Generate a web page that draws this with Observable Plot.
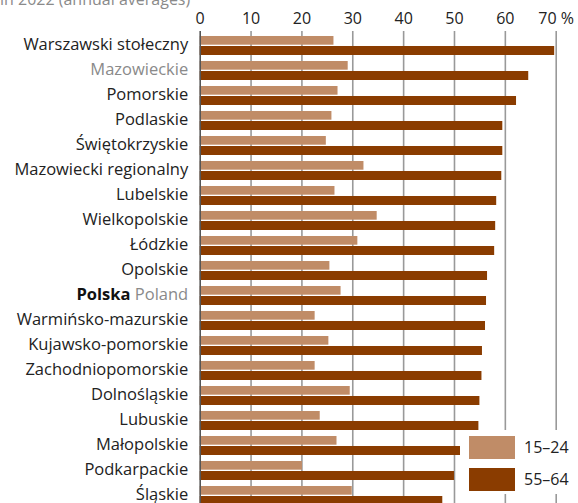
<!DOCTYPE html>
<html><head><meta charset="utf-8">
<script src="https://cdn.jsdelivr.net/npm/d3@7"></script>
<script src="https://cdn.jsdelivr.net/npm/@observablehq/plot@0.6"></script>
<style>
body{margin:0;overflow:hidden;width:578px;height:503px;position:relative;font-family:"Open Sans",sans-serif;background:#fff}
#sub{position:absolute;left:0;top:-9px;font-size:16px;line-height:16px;color:#8a8a8a;white-space:nowrap}
#chart{position:absolute;left:0;top:0}
#legend{position:absolute;left:460px;top:430px;width:118px;height:64px;background:#fff}
.sw{position:absolute;left:9px;width:46px;height:23px}
.lb{position:absolute;left:64px;font-size:16px;line-height:23px;color:#222}
</style></head><body>
<div id="sub">in 2022 (annual averages)</div>
<div id="chart"></div>
<div id="legend"></div>
<script>
const regions = ["Warszawski stołeczny","Mazowieckie","Pomorskie","Podlaskie","Świętokrzyskie","Mazowiecki regionalny","Lubelskie","Wielkopolskie","Łódzkie","Opolskie","Polska Poland","Warmińsko-mazurskie","Kujawsko-pomorskie","Zachodniopomorskie","Dolnośląskie","Lubuskie","Małopolskie","Podkarpackie","Śląskie"];
const youth = [26.3,29.1,27.1,25.9,24.8,32.2,26.5,34.8,31.0,25.5,27.7,22.6,25.3,22.6,29.5,23.6,26.9,20.1,29.9];
const older = [69.7,64.6,62.2,59.5,59.5,59.3,58.3,58.1,57.9,56.5,56.3,56.1,55.5,55.4,55.0,54.8,51.6,50.0,47.7];
const ageGroups = ["15–24","55–64"];
const colors = ["#c08c67","#8a3c00"];
const ticks = [0,10,20,30,40,50,60,70];

const rows = regions.map((r,i)=>({region:r, youth:youth[i], older:older[i]}));

const chart = Plot.plot({
  width:578, height:508,
  marginTop:33, marginBottom:0, marginLeft:199.7, marginRight:22.3,
  style:{fontFamily:"'Open Sans', sans-serif", fontSize:"16px", color:"#222", background:"transparent", overflow:"visible"},
  x:{domain:[0,70], axis:null},
  y:{domain:regions, padding:0, axis:null},
  marks:[
    Plot.ruleX(ticks.slice(1), {stroke:"#999", strokeWidth:1.6, insetTop:-2}),
    Plot.barX(rows, {x:"youth", y:"region", fill:colors[0], insetTop:3, insetBottom:13.3}),
    Plot.barX(rows, {x:"older", y:"region", fill:colors[1], insetTop:13, insetBottom:3}),
    Plot.ruleX([0], {stroke:"#555", strokeWidth:1.6, insetTop:-2}),
    Plot.axisX(ticks, {anchor:"top", label:null, tickSize:0, tickPadding:10, fontSize:16, tickFormat:d=> d===70 ? "70 %" : String(d), fill:"#222"}),
    Plot.axisY(regions, {anchor:"left", label:null, tickSize:0, tickPadding:12, dy:-1, fontSize:16.5, fill:"#222"})
  ]
});
document.getElementById("chart").append(chart);

d3.select(chart).selectAll('g[aria-label="y-axis tick label"] text').each(function(){
  const t = d3.select(this);
  const s = t.text();
  if (s === "Mazowieckie") t.attr("fill","#8a8a8a");
  if (s === "Polska Poland") {
    t.text("");
    t.append("tspan").attr("font-weight","bold").attr("fill","#111").text("Polska");
    t.append("tspan").attr("fill","#8a8a8a").text(" Poland");
  }
});

const leg = d3.select("#legend");
ageGroups.forEach((g,i)=>{
  leg.append("div").attr("class","sw").style("top",(6+i*32)+"px").style("background",colors[i]);
  leg.append("div").attr("class","lb").style("top",(6+i*32)+"px").text(g);
});
</script>
</body></html>
